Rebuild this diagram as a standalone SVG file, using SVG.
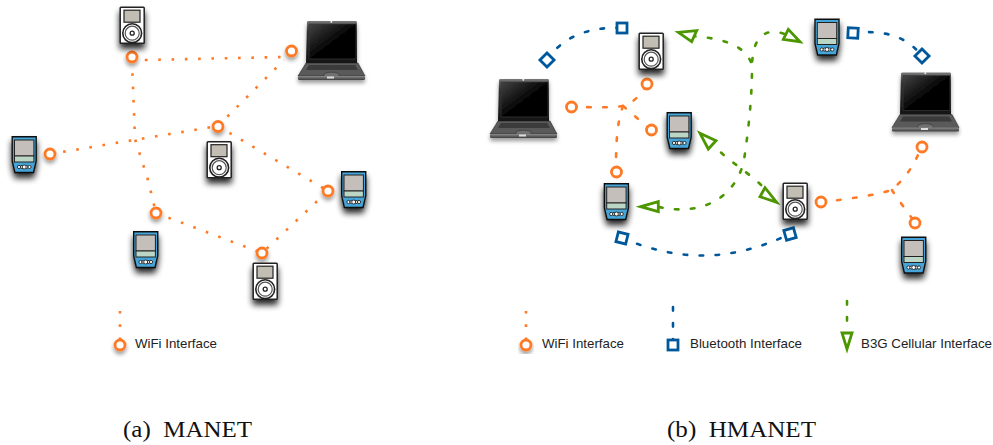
<svg xmlns="http://www.w3.org/2000/svg" width="993" height="445" viewBox="0 0 993 445">
<style>
.wd{fill:none;stroke:#ff7a26;stroke-width:2.6;stroke-dasharray:2.6 10.7}
.wc{fill:none;stroke:#ff7a26;stroke-width:2.6;stroke-dasharray:3.6 12.4;stroke-linecap:round}
.bc{fill:none;stroke:#00589c;stroke-width:2.6;stroke-dasharray:3.6 12.4;stroke-linecap:round}
.gc{fill:none;stroke:#4c9600;stroke-width:2.6;stroke-dasharray:3.6 12.4;stroke-linecap:round}
.wi{fill:#fff;stroke:#ff7a26;stroke-width:2.8}
.bi{fill:#fff;stroke:#00589c;stroke-width:2.8}
.gi{fill:#fff;stroke:#4c9600;stroke-width:2.8;stroke-linejoin:miter}
.lb{font-family:"Liberation Sans",Arial,sans-serif;font-size:13.2px;fill:#222}
.cp{font-family:"Liberation Serif","Times New Roman",serif;font-size:23px;fill:#111}
</style>
<defs>
<filter id="sh" x="-50%" y="-30%" width="200%" height="180%"><feGaussianBlur in="SourceAlpha" stdDeviation="3.2"/><feOffset dy="5"/><feComponentTransfer><feFuncA type="linear" slope="0.85"/></feComponentTransfer><feMerge><feMergeNode/><feMergeNode in="SourceGraphic"/></feMerge></filter>
<filter id="ls" x="-30%" y="-30%" width="160%" height="170%"><feGaussianBlur in="SourceAlpha" stdDeviation="2"/><feOffset dy="3"/><feComponentTransfer><feFuncA type="linear" slope="0.4"/></feComponentTransfer><feMerge><feMergeNode/><feMergeNode in="SourceGraphic"/></feMerge></filter>
<linearGradient id="scr" x1="0" y1="0" x2="1" y2="1"><stop offset="0" stop-color="#444"/><stop offset="0.55" stop-color="#000"/><stop offset="1" stop-color="#000"/></linearGradient>
<linearGradient id="bar" x1="0" y1="0" x2="0" y2="1"><stop offset="0" stop-color="#8a8a8a"/><stop offset="1" stop-color="#3c3c3c"/></linearGradient>
<linearGradient id="lid" x1="0" y1="0" x2="0" y2="1"><stop offset="0" stop-color="#777"/><stop offset="0.25" stop-color="#333"/><stop offset="1" stop-color="#111"/></linearGradient>
<g id="ipod" filter="url(#sh)">
<rect x="0.7" y="0.7" width="24" height="36" rx="0.8" fill="#fff" stroke="#222" stroke-width="1.5"/>
<rect x="4.5" y="3.7" width="16" height="12" fill="#c3beb4" stroke="#222" stroke-width="1.2"/>
<circle cx="12.7" cy="26.700" r="9.400" fill="#fff" stroke="#222" stroke-width="1.6"/>
<circle cx="12.7" cy="26.700" r="7" fill="#fff" stroke="#555" stroke-width="1.2"/>
<circle cx="12.7" cy="26.700" r="2" fill="#fff" stroke="#222" stroke-width="1.3"/>
</g>
<g id="pda" filter="url(#sh)">
<path d="M0.7 0.7H24.7V25L22 36.500H3.400L0.7 25Z" fill="#45a5d8" stroke="#111" stroke-width="1.4"/>
<rect x="3" y="4" width="19.400" height="16" fill="#c4bfba" stroke="#222" stroke-width="1"/>
<rect x="3" y="20" width="19.400" height="6" fill="#bcd6c6" stroke="#222" stroke-width="1"/>
<g fill="#fff" stroke="#222" stroke-width="0.9"><circle cx="7.500" cy="31" r="1.600"/><circle cx="10.500" cy="31" r="1.600"/><circle cx="15" cy="31" r="1.600"/><circle cx="18" cy="31" r="1.600"/><circle cx="12.700" cy="31" r="2"/></g>
</g>
<g id="laptop" filter="url(#ls)">
<path d="M9 2Q9 1 11 1H58Q59 1 59 3V43H8Z" fill="url(#lid)"/>
<rect x="11" y="4" width="47" height="35" fill="url(#scr)" stroke="#3a3a3a" stroke-width="0.7"/>
<circle cx="33.300" cy="1.800" r="1" fill="#eee"/>
<path d="M8 43H60L67 56H0Z" fill="#5a5a5a" stroke="#2a2a2a" stroke-width="0.6"/>
<path d="M11 45H57L60 50H8Z" fill="#3b3b3b"/>
<ellipse cx="33.500" cy="55" rx="8" ry="2.800" fill="#707070" stroke="#333" stroke-width="0.6"/>
<rect x="0" y="56" width="67" height="4" rx="1.2" fill="url(#bar)"/>
<rect x="29" y="56.500" width="7" height="2" fill="#ddd"/>
</g>
</defs>
<rect width="993" height="445" fill="#fff"/>
<g id="connectors">
<path class="wd" d="M132 57Q136 57 146 60L282 57L291 51"/>
<path class="wd" d="M132 60L135 139L148 180L156 213"/>
<path class="wd" d="M50 154L218 126"/>
<path class="wd" d="M218 126L284 60"/>
<path class="wd" d="M218 126L328 191"/>
<path class="wd" d="M156 213L262 253L328 191"/>
<path class="wd" d="M120 311V340"/>
<path class="bc" d="M547 60C560 40 585 26 622 28"/>
<path class="bc" d="M853 33C880 30 905 34 922 56"/>
<path class="bc" d="M622 238C680 262 730 262 790 234"/>
<path class="gc" d="M659 207C710 218 738 190 744 160C750 120 752 90 752 68C752 40 762 24 790 36"/>
<path class="gc" d="M692 36C715 38 745 42 752 65"/>
<path class="gc" d="M710 141C725 160 750 172 768 192"/>
<path class="wc" d="M571 107C590 107 610 108 623 106C635 102 642 93 647 84"/>
<path class="wc" d="M623 106L651 130"/>
<path class="wc" d="M623 106C616 125 616 150 616 172"/>
<path class="wc" d="M821 202C850 199 875 195 892 190C905 178 915 165 921 147"/>
<path class="wc" d="M892 190C898 200 908 212 915 223"/>
<path class="wd" d="M526 311V340"/>
<path class="bc" d="M673 307V340"/>
<path class="gc" d="M847 301V332"/>
</g>
<g id="interfaces">
<g filter="url(#ls)" class="wi"><circle cx="132" cy="57" r="5"/><circle cx="291.500" cy="51" r="5"/><circle cx="218" cy="126.500" r="5"/><circle cx="50" cy="154" r="5"/><circle cx="328" cy="191" r="5"/><circle cx="156" cy="213" r="5"/><circle cx="262" cy="253" r="5"/><circle cx="120" cy="345" r="5"/></g>
<g class="wi"><circle cx="571.500" cy="107" r="5"/><circle cx="647" cy="84" r="5"/><circle cx="651.500" cy="130" r="5"/><circle cx="616.500" cy="172" r="5"/><circle cx="821" cy="202" r="5"/><circle cx="922" cy="147" r="5"/><circle cx="915" cy="223" r="5"/></g>
<circle class="wi" cx="526" cy="345" r="5" filter="url(#ls)"/>
<g class="bi">
<rect x="617" y="23" width="10" height="10"/>
<rect x="542" y="55" width="10" height="10" transform="rotate(45 547 60)"/>
<rect x="848" y="28" width="10" height="10" transform="rotate(3 853 33)"/>
<rect x="917" y="51" width="10" height="10" transform="rotate(45 922 56)"/>
<rect x="617" y="233" width="10" height="10" transform="rotate(14 622 238)"/>
<rect x="785" y="229" width="10" height="10" transform="rotate(-16 790 234)"/>
<rect x="668" y="340" width="10" height="10"/>
</g>
<g class="gi">
<path d="M678.300 32.300L696.700 30.700L691.700 41.700Z"/>
<path d="M800 41.700L788.300 29.300L783.300 39.300Z"/>
<path d="M700 133.300L716 140.700L708.300 149Z"/>
<path d="M640.700 206.700L658.300 201.700V211.700Z"/>
<path d="M776.700 202.300L765 187.700L760 196.700Z"/>
<path d="M847 349L842 333H852Z"/>
</g>
</g>
<g id="ipod-a1"><use href="#ipod" x="119.500" y="6.500"/></g>
<g id="ipod-a2"><use href="#ipod" x="206.500" y="141"/></g>
<g id="ipod-a3"><use href="#ipod" x="252.500" y="262.500"/></g>
<g id="pda-a1"><use href="#pda" x="11.500" y="136"/></g>
<g id="pda-a2"><use href="#pda" x="341" y="171"/></g>
<g id="pda-a3"><use href="#pda" x="133" y="231"/></g>
<g id="laptop-a"><use href="#laptop" x="298" y="20"/></g>
<g id="ipod-b1"><use href="#ipod" x="638.500" y="32.500"/></g>
<g id="ipod-b2"><use href="#ipod" x="782.500" y="182.500"/></g>
<g id="pda-b1"><use href="#pda" x="666.500" y="112"/></g>
<g id="pda-b2"><use href="#pda" x="603.700" y="183"/></g>
<g id="pda-b3"><use href="#pda" x="814.300" y="18.500"/></g>
<g id="pda-b4"><use href="#pda" x="901" y="236.500"/></g>
<g id="laptop-b1"><use href="#laptop" x="490" y="78"/></g>
<g id="laptop-b2"><use href="#laptop" x="892" y="71.500"/></g>
<g id="legend">
<text class="lb" x="135" y="348" textLength="82" lengthAdjust="spacingAndGlyphs">WiFi Interface</text>
<text class="lb" x="542" y="348" textLength="82" lengthAdjust="spacingAndGlyphs">WiFi Interface</text>
<text class="lb" x="690" y="348" textLength="112" lengthAdjust="spacingAndGlyphs">Bluetooth Interface</text>
<text class="lb" x="861" y="348" textLength="131" lengthAdjust="spacingAndGlyphs">B3G Cellular Interface</text>
</g>
<g id="captions">
<text class="cp" x="123" y="437" xml:space="preserve" textLength="129" lengthAdjust="spacingAndGlyphs">(a)  MANET</text>
<text class="cp" x="667" y="437" xml:space="preserve" textLength="149" lengthAdjust="spacingAndGlyphs">(b)  HMANET</text>
</g>
</svg>
